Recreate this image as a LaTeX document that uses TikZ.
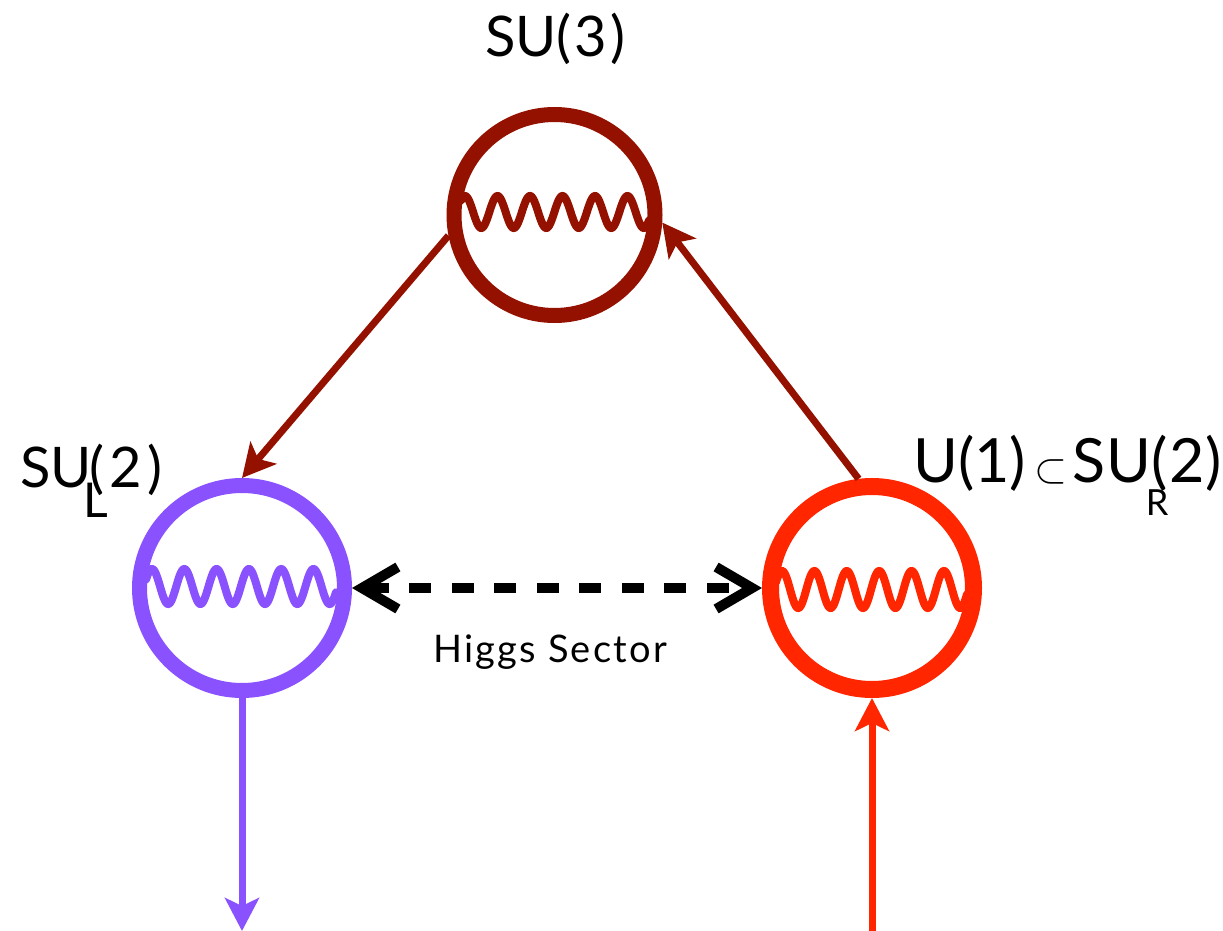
\documentclass[tikz,border=0pt]{standalone}
\usepackage{fontspec}
\setmainfont{Lato}
\usepackage{graphicx}
\usetikzlibrary{arrows.meta}
\definecolor{gluon}{HTML}{941100}
\definecolor{weakL}{HTML}{8A52FF}
\definecolor{weakR}{HTML}{FF2600}
\begin{document}
\begin{tikzpicture}[x=1pt,y=-1pt,
  group/.style={circle,draw=#1,inner sep=0pt},
  wiggle/.style={draw=#1,line width=8pt,line cap=round},
  flow/.style={draw=#1,line width=7pt,-{Stealth[length=33pt,width=34pt,inset=8pt]},color=#1},
  higgs/.style={draw=black,line width=10pt,dash pattern=on 22pt off 20.5pt,
    {Straight Barb[length=36pt,width=42pt]}-{Straight Barb[length=36pt,width=42pt]}},
  lbl/.style={inner sep=0pt,font=\fontsize{56}{60}\selectfont}]
\useasboundingbox (0,0) rectangle (1223,931);

% wavy gauge-boson lines inside each group circle
\draw[wiggle=gluon] plot[domain=461:649,samples=240] (\x,{212-16*cos((\x-465)/32.5*360)});
\draw[wiggle=weakL] plot[domain=146:336,samples=240] (\x,{586.5-17.5*cos((\x-152)/32.3*360)});
\draw[wiggle=weakR] plot[domain=776:967,samples=240] (\x,{589.5-18.5*cos((\x-782)/32.4*360)});

% the three gauge groups
\node[group=gluon,line width=15pt,minimum size=201pt] (su3) at (554.5,215) {};
\node[group=weakL,line width=15pt,minimum size=205pt] (sul) at (242,588) {};
\node[group=weakR,line width=17pt,minimum size=203pt] (sur) at (872,588) {};

% free ends of the vertical arrows
\coordinate (lout) at (242,931);
\coordinate (rin) at (872,931);

% arrows between the groups
\draw[flow=gluon] (su3.191.9) -- (sul.north);
\draw[flow=gluon] (sur.97.7) -- (su3.356.3);
\draw[flow=weakL] (sul.south) -- (lout);
\draw[flow=weakR] (rin) -- (sur.south);
\draw[higgs] (sul.east) -- (sur.west);

% labels
\node[lbl,anchor=base] (t3) at (555,57) {SU(\kern3pt3\kern3pt)};
\node[lbl,anchor=base west] (tl) at (20,487)
  {SU\kern-8pt\rlap{\raisebox{-30pt}{\fontsize{48}{48}\selectfont L}}\kern6pt(\kern5pt2\kern5pt)};
\node[lbl,anchor=base west,font=\fontsize{61}{64}\selectfont] (tr) at (913,482)
  {U(1)\kern8pt\scalebox{1.7}{$\subset$}\kern6ptSU\kern-5pt\rlap{\raisebox{-33pt}{\fontsize{36}{36}\selectfont R}}\kern6pt(\kern1pt2\kern1pt)};
\node[inner sep=0pt,anchor=base west,font=\fontsize{38}{40}\selectfont\addfontfeature{LetterSpace=6}] (th) at (433,662) {Higgs Sector};
\end{tikzpicture}
\end{document}
